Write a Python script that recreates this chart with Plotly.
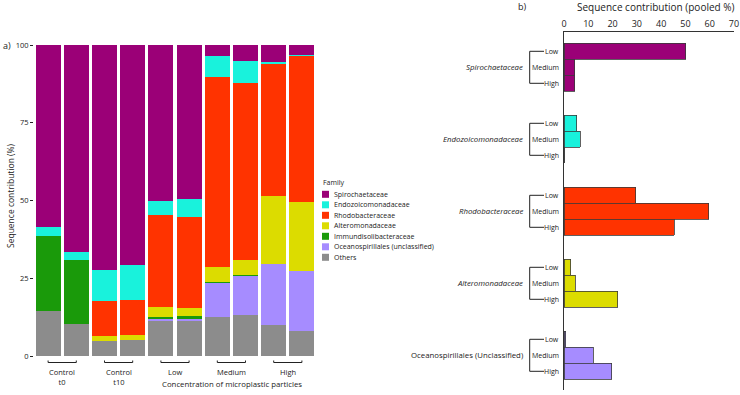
import plotly.graph_objects as go

W, H = 740, 395
FONT = "Open Sans"

# ---------------- data: panel a ----------------
samples = ["Control t0 A", "Control t0 B", "Control t10 A", "Control t10 B",
           "Low A", "Low B", "Medium A", "Medium B", "High A", "High B"]
group_labels = ["Control<br>t0", "Control<br>t10", "Low", "Medium", "High"]

families = ["Spirochaetaceae", "Endozoicomonadaceae", "Rhodobacteraceae",
            "Alteromonadaceae", "Immundisolibacteraceae",
            "Oceanospirillales (unclassified)", "Others"]
colors = ["#9B0077", "#19F2DC", "#FF3300", "#DCDC00", "#1A9A0A", "#A68CFF", "#8C8C8C"]

spiro = [58.4, 66.7, 72.4, 70.7, 50.0, 49.5, 3.6, 5.3, 5.5, 3.1]
endozo = [2.9, 2.3, 9.8, 11.4, 4.8, 5.8, 6.7, 6.8, 0.3, 0.3]
rhodo = [0.0, 0.0, 11.4, 11.1, 29.5, 29.4, 61.2, 56.9, 42.8, 47.0]
altero = [0.0, 0.0, 1.6, 1.6, 3.3, 2.5, 4.6, 4.8, 21.7, 22.4]
immund = [24.1, 20.7, 0.0, 0.0, 0.5, 0.6, 0.4, 0.3, 0.0, 0.0]
oceano = [0.0, 0.0, 0.0, 0.0, 0.5, 1.0, 10.9, 12.8, 19.7, 19.2]
others = [14.6, 10.3, 4.8, 5.2, 11.4, 11.2, 12.6, 13.1, 10.0, 8.0]
series = [spiro, endozo, rhodo, altero, immund, oceano, others]

# ---------------- data: panel b ----------------
pooled_families = ["Spirochaetaceae", "Endozoicomonadaceae", "Rhodobacteraceae",
                   "Alteromonadaceae", "Oceanospirillales (Unclassified)"]
pooled_italic = [True, True, True, True, False]
pooled_colors = ["#9B0077", "#19F2DC", "#FF3300", "#DCDC00", "#A68CFF"]
levels = ["Low", "Medium", "High"]
pooled_spiro = [50.2, 4.5, 4.5]
pooled_endozo = [5.3, 6.7, 0.2]
pooled_rhodo = [29.6, 59.5, 45.4]
pooled_altero = [2.7, 4.6, 22.1]
pooled_oceano = [0.7, 12.1, 19.6]
pooled = [pooled_spiro, pooled_endozo, pooled_rhodo, pooled_altero, pooled_oceano]
x2_ticks = [0, 10, 20, 30, 40, 50, 60, 70]

GROUP_STEP = 4.5


def px(x):
    return x / W


def py(y):
    return (H - y) / H


fig = go.Figure()

# panel a: stacked bars (stack bottom-up = reverse legend order)
for name, col, vals in reversed(list(zip(families, colors, series))):
    fig.add_trace(go.Bar(x=samples, y=vals, name=name, marker_color=col,
                         marker_line_width=0, xaxis="x", yaxis="y",
                         showlegend=False, hoverinfo="skip"))

# panel b: horizontal bars
for gi, (name, col, vals) in enumerate(zip(pooled_families, pooled_colors, pooled)):
    ypos = [gi * GROUP_STEP + li for li in range(len(levels))]
    fig.add_trace(go.Bar(x=vals, y=ypos, orientation="h", width=1,
                         marker=dict(color=col, line=dict(color="#3a3a3a", width=0.8)),
                         xaxis="x2", yaxis="y2", showlegend=False, name=name,
                         hoverinfo="skip"))

shapes = []
annotations = []

# group brackets + labels under panel a
for g, lab in enumerate(group_labels):
    x0, x1 = 2 * g, 2 * g + 1
    shapes.append(dict(type="path", xref="x", yref="paper",
                       path=f"M {x0},{py(360.5)} L {x0},{py(362.5)} L {x1},{py(362.5)} L {x1},{py(360.5)}",
                       line=dict(color="#222", width=1)))
    annotations.append(dict(x=x0 + 0.5, y=py(364.5), xref="x", yref="paper",
                            text=lab, showarrow=False, xanchor="center", yanchor="top",
                            font=dict(size=7.5, family=FONT, color="#222")))

annotations.append(dict(x=px(232), y=py(384), xref="paper", yref="paper",
                        text="Concentration of microplastic particles", showarrow=False,
                        xanchor="center", yanchor="middle",
                        font=dict(size=7.8, family=FONT, color="#222")))
annotations.append(dict(x=px(10), y=py(196), xref="paper", yref="paper",
                        text="Sequence contribution (%)", showarrow=False, textangle=-90,
                        xanchor="center", yanchor="middle",
                        font=dict(size=8.5, family=FONT, color="#222")))
annotations.append(dict(x=px(1), y=py(45), xref="paper", yref="paper",
                        text="a)", showarrow=False, xanchor="left", yanchor="middle",
                        font=dict(size=9, family=FONT, color="#222")))

# legend (drawn from families / colors)
annotations.append(dict(x=px(321), y=py(182), xref="paper", yref="paper",
                        text="Family", showarrow=False, xanchor="left", yanchor="middle",
                        font=dict(size=7, family=FONT, color="#222")))
for i, (name, col) in enumerate(zip(families, colors)):
    yc = 194.3 + i * 10.5
    shapes.append(dict(type="rect", xref="paper", yref="paper",
                       x0=px(322), x1=px(329), y0=py(yc + 3.5), y1=py(yc - 3.5),
                       fillcolor=col, line=dict(width=0)))
    annotations.append(dict(x=px(331.5), y=py(yc), xref="paper", yref="paper",
                            text=name, showarrow=False, xanchor="left", yanchor="middle",
                            font=dict(size=7, family=FONT, color="#222")))

# panel b labels and brackets
for gi, (name, ital) in enumerate(zip(pooled_families, pooled_italic)):
    y_low = gi * GROUP_STEP
    y_mid = y_low + 1
    y_high = y_low + 2
    shapes.append(dict(type="path", xref="paper", yref="y2",
                       path=f"M {px(544)},{y_low} L {px(529.7)},{y_low} L {px(529.7)},{y_high} L {px(544)},{y_high}",
                       line=dict(color="#222", width=1)))
    for li, lv in enumerate(levels):
        annotations.append(dict(x=px(561), y=y_low + li, xref="paper", yref="y2",
                                text=lv, showarrow=False, xanchor="right", yanchor="middle",
                                font=dict(size=7, family=FONT, color="#222")))
    annotations.append(dict(x=px(525), y=y_mid, xref="paper", yref="y2",
                            text=f"<i>{name}</i>" if ital else name, showarrow=False,
                            xanchor="right", yanchor="middle",
                            font=dict(size=7.8, family=FONT, color="#222")))

annotations.append(dict(x=px(656), y=py(7), xref="paper", yref="paper",
                        text="Sequence contribution (pooled %)", showarrow=False,
                        xanchor="center", yanchor="middle",
                        font=dict(size=10, family=FONT, color="#222")))
annotations.append(dict(x=px(522), y=py(7), xref="paper", yref="paper",
                        text="b)", showarrow=False, xanchor="center", yanchor="middle",
                        font=dict(size=9, family=FONT, color="#222")))

top_pad = 1.206
span = (390 - 32) / 16.0

fig.update_layout(
    width=W, height=H, margin=dict(l=0, r=0, t=0, b=0, pad=0, autoexpand=False),
    paper_bgcolor="white", plot_bgcolor="white",
    barmode="stack", bargap=0.11,
    font=dict(family=FONT, size=8, color="#222"),
    showlegend=False, hovermode=False,
    xaxis=dict(domain=[px(34), px(316)], showticklabels=False, ticks="",
               showline=False, showgrid=False, zeroline=False, anchor="y", automargin=False),
    yaxis=dict(domain=[py(356), py(45)], range=[0, 100], tickvals=[0, 25, 50, 75, 100],
               ticks="outside", ticklen=3, tickcolor="#222", tickwidth=1,
               showline=False, showgrid=False, zeroline=False, automargin=False,
               tickfont=dict(size=7.5, family=FONT, color="#222"), anchor="x"),
    xaxis2=dict(domain=[px(564), px(734)], range=[0, 70], tickvals=x2_ticks,
                side="top", anchor="y2", showline=True, linecolor="#333", linewidth=1,
                ticks="", showgrid=False, zeroline=False, automargin=False,
                tickfont=dict(size=9, family=FONT, color="#222")),
    yaxis2=dict(domain=[py(390), py(32)], range=[span - top_pad, -top_pad],
                anchor="x2", showline=True, linecolor="#333", linewidth=1, automargin=False,
                showticklabels=False, ticks="", showgrid=False, zeroline=False),
    shapes=shapes, annotations=annotations,
)

fig.write_html("out.html", config={"displayModeBar": False, "responsive": False},
               post_script="document.body.style.margin='0';document.body.style.overflow='hidden';")
